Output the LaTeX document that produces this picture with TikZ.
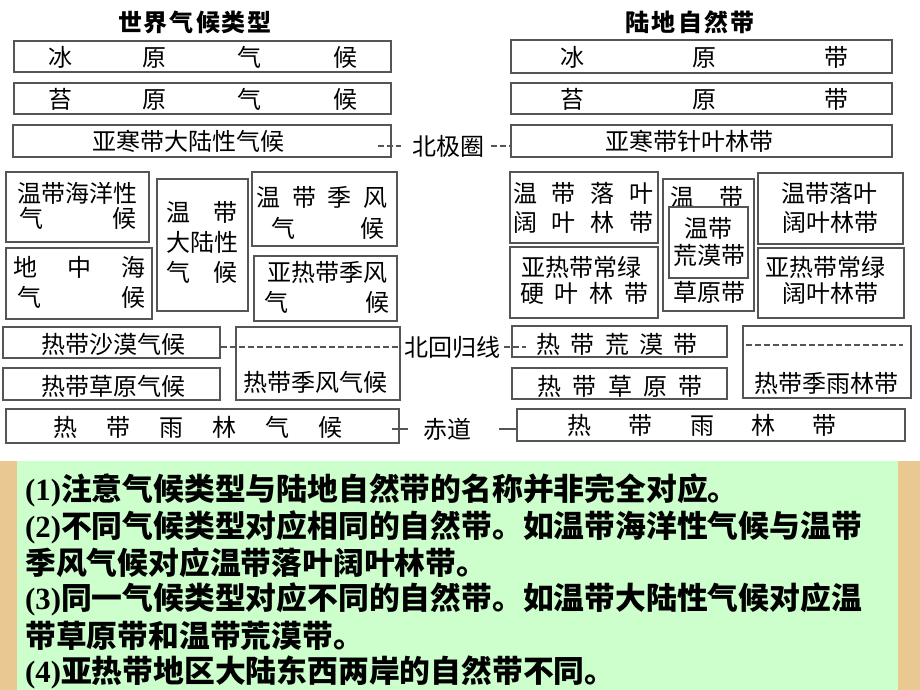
\documentclass[tikz,border=0pt]{standalone}
\usepackage{fontspec}
\setmainfont{Liberation Serif}
\newfontfamily\cn{Noto Sans CJK SC}
\definecolor{edgegray}{RGB}{85,85,85}
\definecolor{panelgreen}{RGB}{204,255,204}
\definecolor{paneltan}{RGB}{233,200,145}
\newcommand{\spreadtxt}[2]{\hbox to #1pt{#2}}
\tikzset{
  zone/.style={draw=edgegray, line width=1.6pt, inner sep=0pt},
  boxtxt/.style={font=\cn\fontsize{24}{24}\selectfont, inner sep=0pt},
  headtxt/.style={font=\cn\bfseries\fontsize{24}{24}\selectfont, inner sep=0pt},
  dashlink/.style={draw=edgegray, line width=1.4pt, dash pattern=on 6pt off 3pt},
  solidlink/.style={draw=edgegray, line width=1.4pt},
  notetxt/.style={font=\bfseries\fontsize{30.8}{30.8}\selectfont, inner sep=0pt, anchor=west}
}
\begin{document}
\begin{tikzpicture}[x=1pt, y=-1pt]
    \useasboundingbox (0,0) rectangle (920,690);

    % note panel
    \fill[paneltan] (0,461) rectangle (920,690);
    \fill[panelgreen] (17,461) rectangle (898,690);

    % titles
    \node[headtxt] (tl) at (195,22) {\spreadtxt{154}{世\hfil 界\hfil 气\hfil 候\hfil 类\hfil 型}};
    \node[headtxt] (tr) at (690,22) {\spreadtxt{130}{陆\hfil 地\hfil 自\hfil 然\hfil 带}};

    % climate types
    \node[zone, minimum width=377, minimum height=31] (A1) at (202.5,56.5) {};
    \node[boxtxt] at (202.5,57) {\spreadtxt{309}{冰\hfil 原\hfil 气\hfil 候}};
    \node[zone, minimum width=377, minimum height=31] (A2) at (202.5,98.5) {};
    \node[boxtxt] at (202.5,99) {\spreadtxt{309}{苔\hfil 原\hfil 气\hfil 候}};
    \node[zone, minimum width=378, minimum height=32] (A3) at (202,141) {};
    \node[boxtxt] at (188,141) {亚寒带大陆性气候};

    \node[zone, minimum width=143, minimum height=70] (A4) at (77.5,207) {};
    \node[boxtxt] at (77,193) {温带海洋性};
    \node[boxtxt] at (78,218) {\spreadtxt{117}{气\hfil 候}};
    \node[zone, minimum width=146, minimum height=71] (A5) at (79,283.5) {};
    \node[boxtxt] at (79,267) {\spreadtxt{132}{地\hfil 中\hfil 海}};
    \node[boxtxt] at (81,297) {\spreadtxt{128}{气\hfil 候}};
    \node[zone, minimum width=91, minimum height=132] (A6) at (202.5,245) {};
    \node[boxtxt] at (202,212) {\spreadtxt{71}{温\hfil 带}};
    \node[boxtxt] at (202,242) {大陆性};
    \node[boxtxt] at (202,272) {\spreadtxt{71}{气\hfil 候}};
    \node[zone, minimum width=145, minimum height=74] (A7) at (324.5,209) {};
    \node[boxtxt] at (322,197) {\spreadtxt{131}{温\hfil 带\hfil 季\hfil 风}};
    \node[boxtxt] at (328,228) {\spreadtxt{113}{气\hfil 候}};
    \node[zone, minimum width=143, minimum height=65] (A8) at (325.5,288.5) {};
    \node[boxtxt] at (327,272) {亚热带季风};
    \node[boxtxt] at (327,302) {\spreadtxt{125}{气\hfil 候}};

    \node[zone, minimum width=217, minimum height=31] (A9) at (111.5,342.5) {};
    \node[boxtxt] at (113,344) {热带沙漠气候};
    \node[zone, minimum width=217, minimum height=32] (A10) at (111.5,384) {};
    \node[boxtxt] at (113,386) {热带草原气候};
    \node[zone, minimum width=164, minimum height=73] (A11) at (318,363.5) {};
    \node[boxtxt] at (315,382) {热带季风气候};
    \node[zone, minimum width=393, minimum height=34] (A12) at (202.5,426) {};
    \node[boxtxt] at (198,427) {\spreadtxt{290}{热\hfil 带\hfil 雨\hfil 林\hfil 气\hfil 候}};

    % natural zones
    \node[zone, minimum width=381, minimum height=33] (B1) at (701.5,56.5) {};
    \node[boxtxt] at (704,57) {\spreadtxt{288}{冰\hfil 原\hfil 带}};
    \node[zone, minimum width=381, minimum height=31] (B2) at (701.5,98.5) {};
    \node[boxtxt] at (704,99) {\spreadtxt{288}{苔\hfil 原\hfil 带}};
    \node[zone, minimum width=381, minimum height=32] (B3) at (701.5,141) {};
    \node[boxtxt] at (689,141) {亚寒带针叶林带};

    \node[zone, minimum width=148, minimum height=71] (B4) at (584,207.5) {};
    \node[boxtxt] at (583,193) {\spreadtxt{140}{温\hfil 带\hfil 落\hfil 叶}};
    \node[boxtxt] at (583,222) {\spreadtxt{140}{阔\hfil 叶\hfil 林\hfil 带}};
    \node[zone, minimum width=148, minimum height=71] (B5) at (584,282.5) {};
    \node[boxtxt] at (581,267) {亚热带常绿};
    \node[boxtxt] at (584,293) {\spreadtxt{128}{硬\hfil 叶\hfil 林\hfil 带}};
    \node[zone, minimum width=91, minimum height=132] (B6) at (708.5,245) {};
    \node[boxtxt] at (707,197) {\spreadtxt{73}{温\hfil 带}};
    \node[zone, minimum width=79, minimum height=71] (B6i) at (708.5,242.5) {};
    \node[boxtxt] at (708,228) {温带};
    \node[boxtxt] at (709,255) {荒漠带};
    \node[boxtxt] at (709,292) {草原带};
    \node[zone, minimum width=145, minimum height=71] (B7) at (830.5,208.5) {};
    \node[boxtxt] at (829,193) {温带落叶};
    \node[boxtxt] at (830,222) {阔叶林带};
    \node[zone, minimum width=146, minimum height=70] (B8) at (831,283) {};
    \node[boxtxt] at (825,267) {亚热带常绿};
    \node[boxtxt] at (830,293) {阔叶林带};

    \node[zone, minimum width=215, minimum height=31] (B9) at (619.5,341.5) {};
    \node[boxtxt] at (617,344) {\spreadtxt{161}{热\hfil 带\hfil 荒\hfil 漠\hfil 带}};
    \node[zone, minimum width=215, minimum height=31] (B10) at (619.5,383.5) {};
    \node[boxtxt] at (620,386) {\spreadtxt{166}{热\hfil 带\hfil 草\hfil 原\hfil 带}};
    \node[zone, minimum width=168, minimum height=72] (B11) at (827,362) {};
    \node[boxtxt] at (826,383) {热带季雨林带};
    \node[zone, minimum width=388, minimum height=32] (B12) at (711,425) {};
    \node[boxtxt] at (702,425) {\spreadtxt{269}{热\hfil 带\hfil 雨\hfil 林\hfil 带}};

    % latitude lines
    \node[boxtxt] (arc) at (448,146) {北极圈};
    \node[boxtxt] (trop) at (452,347) {北回归线};
    \node[boxtxt] (equ) at (447,429) {赤道};
    \draw[dashlink] ([xshift=-14pt]A3.east |- arc.west) -- ([xshift=-11pt]arc.west);
    \draw[dashlink] ([xshift=7pt]arc.east) -- (B3.west |- arc.east);
    \draw[dashlink] (A9.east |- trop.west) -- (A11.east |- trop.west);
    \draw[dashlink] ([xshift=4pt]trop.east) -- ([xshift=15pt]B9.west |- trop.east);
    \draw[dashlink] ([shift={(4,-17)}]B11.west) -- ([shift={(-9,-17)}]B11.east);
    \draw[solidlink] ([xshift=-8pt]A12.east |- equ.west) -- ([xshift=-15pt]equ.west);
    \draw[solidlink] ([xshift=28pt]equ.east) -- (B12.west |- equ.east);

    % notes
    \node[notetxt] (n1) at (25,490) {(1){\cn 注意气候类型与陆地自然带的名称并非完全对应。}};
    \node[notetxt] (n2) at (25,527) {(2){\cn 不同气候类型对应相同的自然带。如温带海洋性气候与温带}};
    \node[notetxt] (n3) at (25,563) {{\cn 季风气候对应温带落叶阔叶林带。}};
    \node[notetxt] (n4) at (25,599) {(3){\cn 同一气候类型对应不同的自然带。如温带大陆性气候对应温}};
    \node[notetxt] (n5) at (25,636) {{\cn 带草原带和温带荒漠带。}};
    \node[notetxt] (n6) at (25,672) {(4){\cn 亚热带地区大陆东西两岸的自然带不同。}};
\end{tikzpicture}
\end{document}
